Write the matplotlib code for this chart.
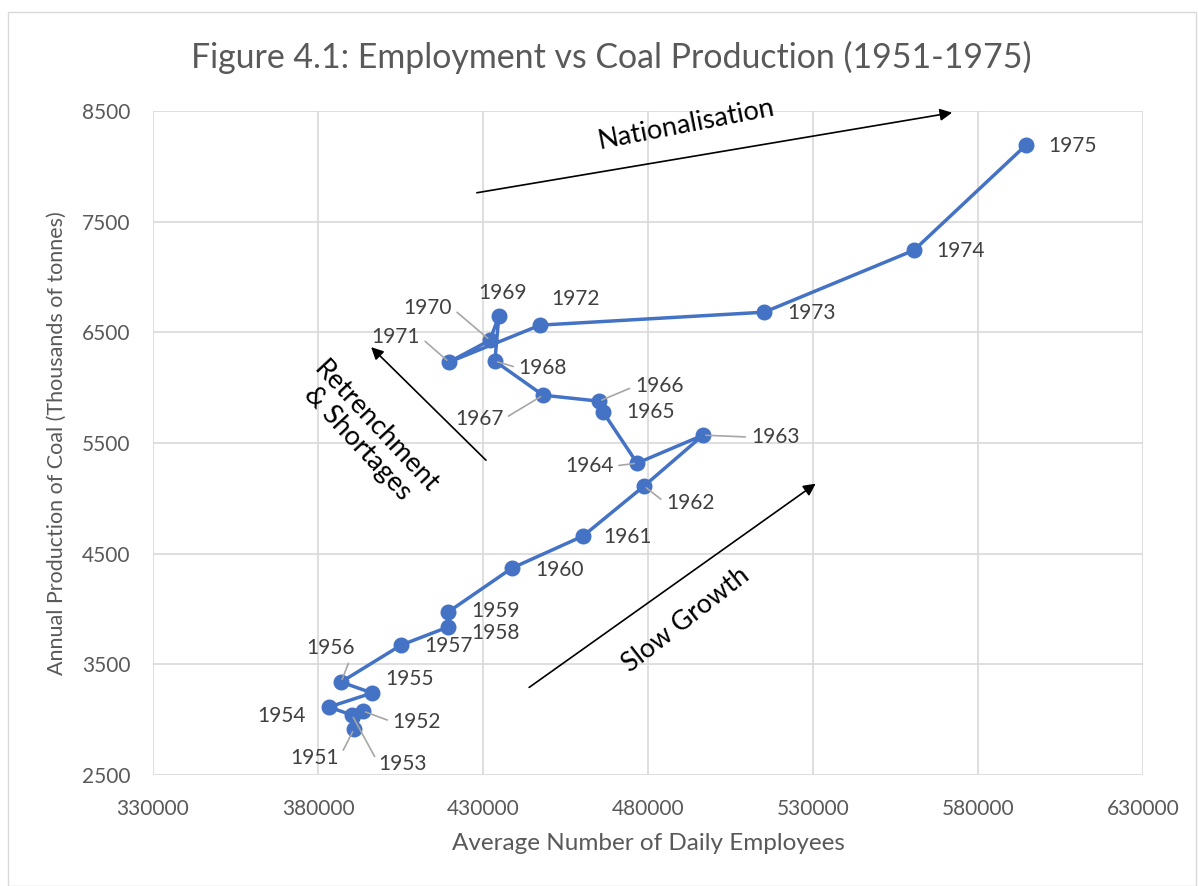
import matplotlib
matplotlib.use("Agg")
import matplotlib.pyplot as plt
from matplotlib.patches import Rectangle

plt.rcParams['font.family'] = ['Lato', 'DejaVu Sans']

years = list(range(1951, 1976))
employees = [390900, 393600, 390300, 383300, 396400, 387000, 405200, 419400,
             419400, 438800, 460300, 478800, 496700, 476700, 466400, 465200,
             448200, 433600, 434800, 432100, 419700, 447300, 515200, 560600,
             594500]
production = [2915, 3078, 3042, 3114, 3241, 3340, 3674, 3837, 3972, 4370,
              4659, 5111, 5571, 5318, 5779, 5878, 5932, 6240, 6646, 6429,
              6231, 6565, 6682, 7242, 8191]

# label offsets in pixels (dx, dy) and whether a leader line is drawn
label_pos = {
    1951: (-39, -29, True), 1952: (54, -11, True), 1953: (51, -49, True),
    1954: (-47, -9, False), 1955: (37, 14, False), 1956: (-11, 34, True),
    1957: (47, -1, False), 1958: (47, -6, False), 1959: (47, 1, False),
    1960: (47, -2, False), 1961: (45, -1, False), 1962: (46, -17, True),
    1963: (72, -2, True), 1964: (-48, -3, True), 1965: (47, 0, False),
    1966: (60, 15, True), 1967: (-64, -24, True), 1968: (48, -7, True),
    1969: (4, 23, False), 1970: (-62, 32, True), 1971: (-53, 25, True),
    1972: (35, 26, False), 1973: (47, -1, False), 1974: (47, -1, False),
    1975: (47, -1, False),
}

fig = plt.figure(figsize=(11.98, 8.86), dpi=100)
ax = fig.add_axes([153/1198, 111/886, 990/1198, 664/886])

fig.patches.append(Rectangle((8/1198, 0.0), 1188/1198, 874/886,
                             transform=fig.transFigure, fill=False,
                             edgecolor='#d9d9d9', linewidth=1))

ax.plot(employees, production, color='#4472C4', linewidth=2.5,
        marker='o', markersize=10.5, zorder=3)

for yr, x, y in zip(years, employees, production):
    dx, dy, leader = label_pos[yr]
    props = None
    if leader:
        props = dict(arrowstyle='-', color='#a6a6a6', linewidth=1.2,
                     shrinkA=2, shrinkB=2,
                     relpos=(1, 0.5) if dx < 0 else (0, 0.5))
    ax.annotate(str(yr), (x, y), xytext=(dx, dy), textcoords='offset pixels',
                ha='center', va='center', fontsize=15, color='#404040',
                arrowprops=props, zorder=4)

ax.set_xlim(330000, 630000)
ax.set_ylim(2500, 8500)
ax.set_xticks(range(330000, 630001, 50000))
ax.set_yticks(range(2500, 8501, 1000))
ax.grid(True, color='#d9d9d9', linewidth=1.2)
ax.set_axisbelow(True)
for s in ax.spines.values():
    s.set_visible(False)
ax.tick_params(length=0, labelsize=15, labelcolor='#595959')
ax.tick_params(axis='x', pad=17)
ax.tick_params(axis='y', pad=16)

ax.set_xlabel('Average Number of Daily Employees', fontsize=17.5,
              color='#595959', labelpad=10)
ax.set_ylabel('Annual Production of Coal (Thousands of tonnes)', fontsize=15.5,
              color='#595959', labelpad=11)
fig.text(0.51, 1 - 57/886, 'Figure 4.1: Employment vs Coal Production (1951-1975)',
         fontsize=24.4, color='#595959', ha='center', va='center')

# annotation arrows
arrow = dict(arrowstyle='-|>', color='black', linewidth=1.2, mutation_scale=18)
ax.annotate('', xy=(573000, 8489), xytext=(427300, 7757), arrowprops=arrow)
ax.annotate('', xy=(531500, 5147), xytext=(443300, 3277), arrowprops=arrow)
ax.annotate('', xy=(395500, 6384), xytext=(431500, 5327), arrowprops=arrow)

ax.text(0.538, 0.98, 'Nationalisation', transform=ax.transAxes,
        fontsize=19.5, rotation=11, ha='center', va='center')
ax.text(0.538, 0.233, 'Slow Growth', transform=ax.transAxes,
        fontsize=19.2, rotation=38, ha='center', va='center')
ax.text(0.216, 0.512, 'Retrenchment\n& Shortages', transform=ax.transAxes,
        fontsize=19.5, rotation=-47, ha='center', va='center',
        linespacing=1.0)

fig.savefig('out.png', dpi=100)
